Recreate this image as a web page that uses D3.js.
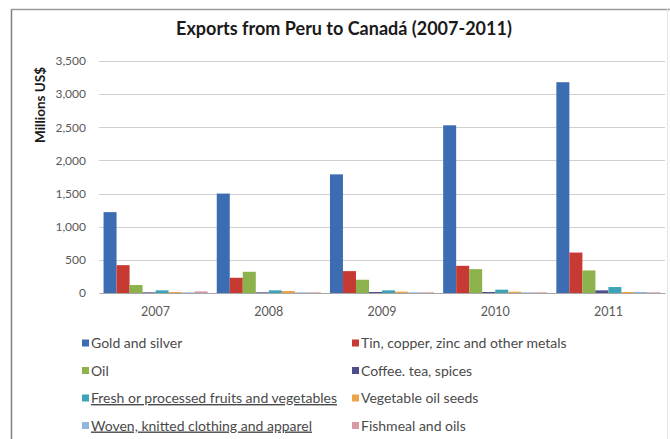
<!DOCTYPE html>
<html>
<head>
<meta charset="utf-8">
<script src="https://cdn.jsdelivr.net/npm/d3@7"></script>
<style>
  body { margin: 0; background: #fff; }
  svg { display: block; font-family: Lato, "Open Sans", sans-serif; }
</style>
</head>
<body>
<svg id="chart" width="670" height="439"></svg>
<script>
// Exports from Peru to Canada, millions US$

const years = ['2007', '2008', '2009', '2010', '2011'];

const seriesNames = [
  'Gold and silver',
  'Tin, copper, zinc and other metals',
  'Oil',
  'Coffee. tea, spices',
  'Fresh or processed fruits and vegetables',
  'Vegetable oil seeds',
  'Woven, knitted clothing and apparel',
  'Fishmeal and oils'
];

const goldSilver = [1220, 1500, 1790, 2530, 3180];
const tinCopper = [420, 230, 330, 410, 610];
const oil = [120, 320, 200, 360, 340];
const coffee = [10, 10, 15, 15, 40];
const fruits = [40, 40, 40, 50, 90];
const oilSeeds = [15, 30, 20, 20, 15];
const clothing = [10, 10, 10, 10, 15];
const fishmeal = [25, 10, 10, 10, 10];

const seriesValues = [goldSilver, tinCopper, oil, coffee, fruits, oilSeeds, clothing, fishmeal];

const yTicks = [0, 500, 1000, 1500, 2000, 2500, 3000, 3500];

const colors = ['#3c6db3', '#c73a33', '#8cb24b', '#4b4f8e', '#3fa3b8', '#eca34a', '#91b6de', '#d79aa6'];
const underlined = [false, false, false, false, true, false, true, false];

const svg = d3.select('#chart');

// frame
svg.append('rect').attr('width', 670).attr('height', 439).attr('fill', '#fff');
svg.append('line').attr('x1', 11.5).attr('x2', 11.5).attr('y1', 9).attr('y2', 439)
  .attr('stroke', '#808080').attr('stroke-width', 1.5);
svg.append('line').attr('x1', 11).attr('x2', 670).attr('y1', 9.5).attr('y2', 9.5)
  .attr('stroke', '#9a9a9a').attr('stroke-width', 1.5);
svg.append('line').attr('x1', 667.5).attr('x2', 667.5).attr('y1', 9).attr('y2', 439)
  .attr('stroke', '#e4e4e4');

const plot = { left: 99, right: 665, top: 61, bottom: 293 };

const x0 = d3.scaleBand().domain(years).range([plot.left, plot.right]).paddingInner(0).paddingOuter(0);
const x1 = d3.scaleBand().domain(d3.range(seriesNames.length))
  .range([0, x0.bandwidth()]).paddingInner(0).paddingOuter(0.35);
const y = d3.scaleLinear().domain([0, 3500]).range([plot.bottom, plot.top]);

// gridlines
svg.append('g')
  .selectAll('line')
  .data(yTicks.slice(1))
  .join('line')
  .attr('x1', plot.left).attr('x2', plot.right)
  .attr('y1', d => Math.round(y(d)) + 0.5).attr('y2', d => Math.round(y(d)) + 0.5)
  .attr('stroke', '#cfcfcf');

// y axis labels
const yAxis = d3.axisLeft(y).tickValues(yTicks).tickSize(0).tickPadding(12)
  .tickFormat(d3.format(','));
const yg = svg.append('g').attr('transform', `translate(${plot.left - 1},0)`).call(yAxis);
yg.select('.domain').remove();
yg.selectAll('text').attr('fill', '#595959').style('font-size', '12px')
  .style('font-family', 'Lato, sans-serif');

// bars
const groups = svg.append('g')
  .selectAll('g')
  .data(years)
  .join('g')
  .attr('transform', d => `translate(${x0(d)},0)`);

groups.selectAll('rect')
  .data((yr, i) => seriesValues.map((vals, s) => ({ s, v: vals[i] })))
  .join('rect')
  .attr('x', d => x1(d.s))
  .attr('width', x1.bandwidth())
  .attr('y', d => y(d.v))
  .attr('height', d => y(0) - y(d.v))
  .attr('fill', d => colors[d.s]);

// x axis
const xAxis = d3.axisBottom(x0).tickSize(0).tickPadding(14);
const xg = svg.append('g').attr('transform', `translate(0,${plot.bottom})`).call(xAxis);
xg.select('.domain').attr('stroke', '#a6a6a6');
xg.selectAll('text').attr('fill', '#595959').style('font-size', '12.5px')
  .style('font-family', 'Lato, sans-serif');

// title
svg.append('text')
  .attr('x', 344).attr('y', 35)
  .attr('text-anchor', 'middle')
  .attr('fill', '#1a1a1a')
  .style('font-size', '18px').style('font-weight', 'bold')
  .text('Exports from Peru to Canadá (2007-2011)');

// y axis title
svg.append('text')
  .attr('transform', 'translate(45,105) rotate(-90)')
  .attr('text-anchor', 'middle')
  .attr('fill', '#1a1a1a')
  .style('font-size', '13.5px').style('font-weight', 'bold')
  .text('Millions US$');

// legend, two columns
const legend = svg.append('g')
  .selectAll('g')
  .data(seriesNames)
  .join('g')
  .attr('transform', (d, i) => `translate(${i % 2 === 0 ? 82 : 352},${343 + Math.floor(i / 2) * 27.5})`);

legend.append('rect')
  .attr('x', 0).attr('y', -3.5).attr('width', 7).attr('height', 7)
  .attr('fill', (d, i) => colors[i]);

legend.append('text')
  .attr('x', 9).attr('y', 5)
  .attr('fill', '#4a4a4a')
  .style('font-size', '14px')
  .style('text-decoration', (d, i) => underlined[i] ? 'underline' : 'none')
  .text(d => d);
</script>
</body>
</html>
